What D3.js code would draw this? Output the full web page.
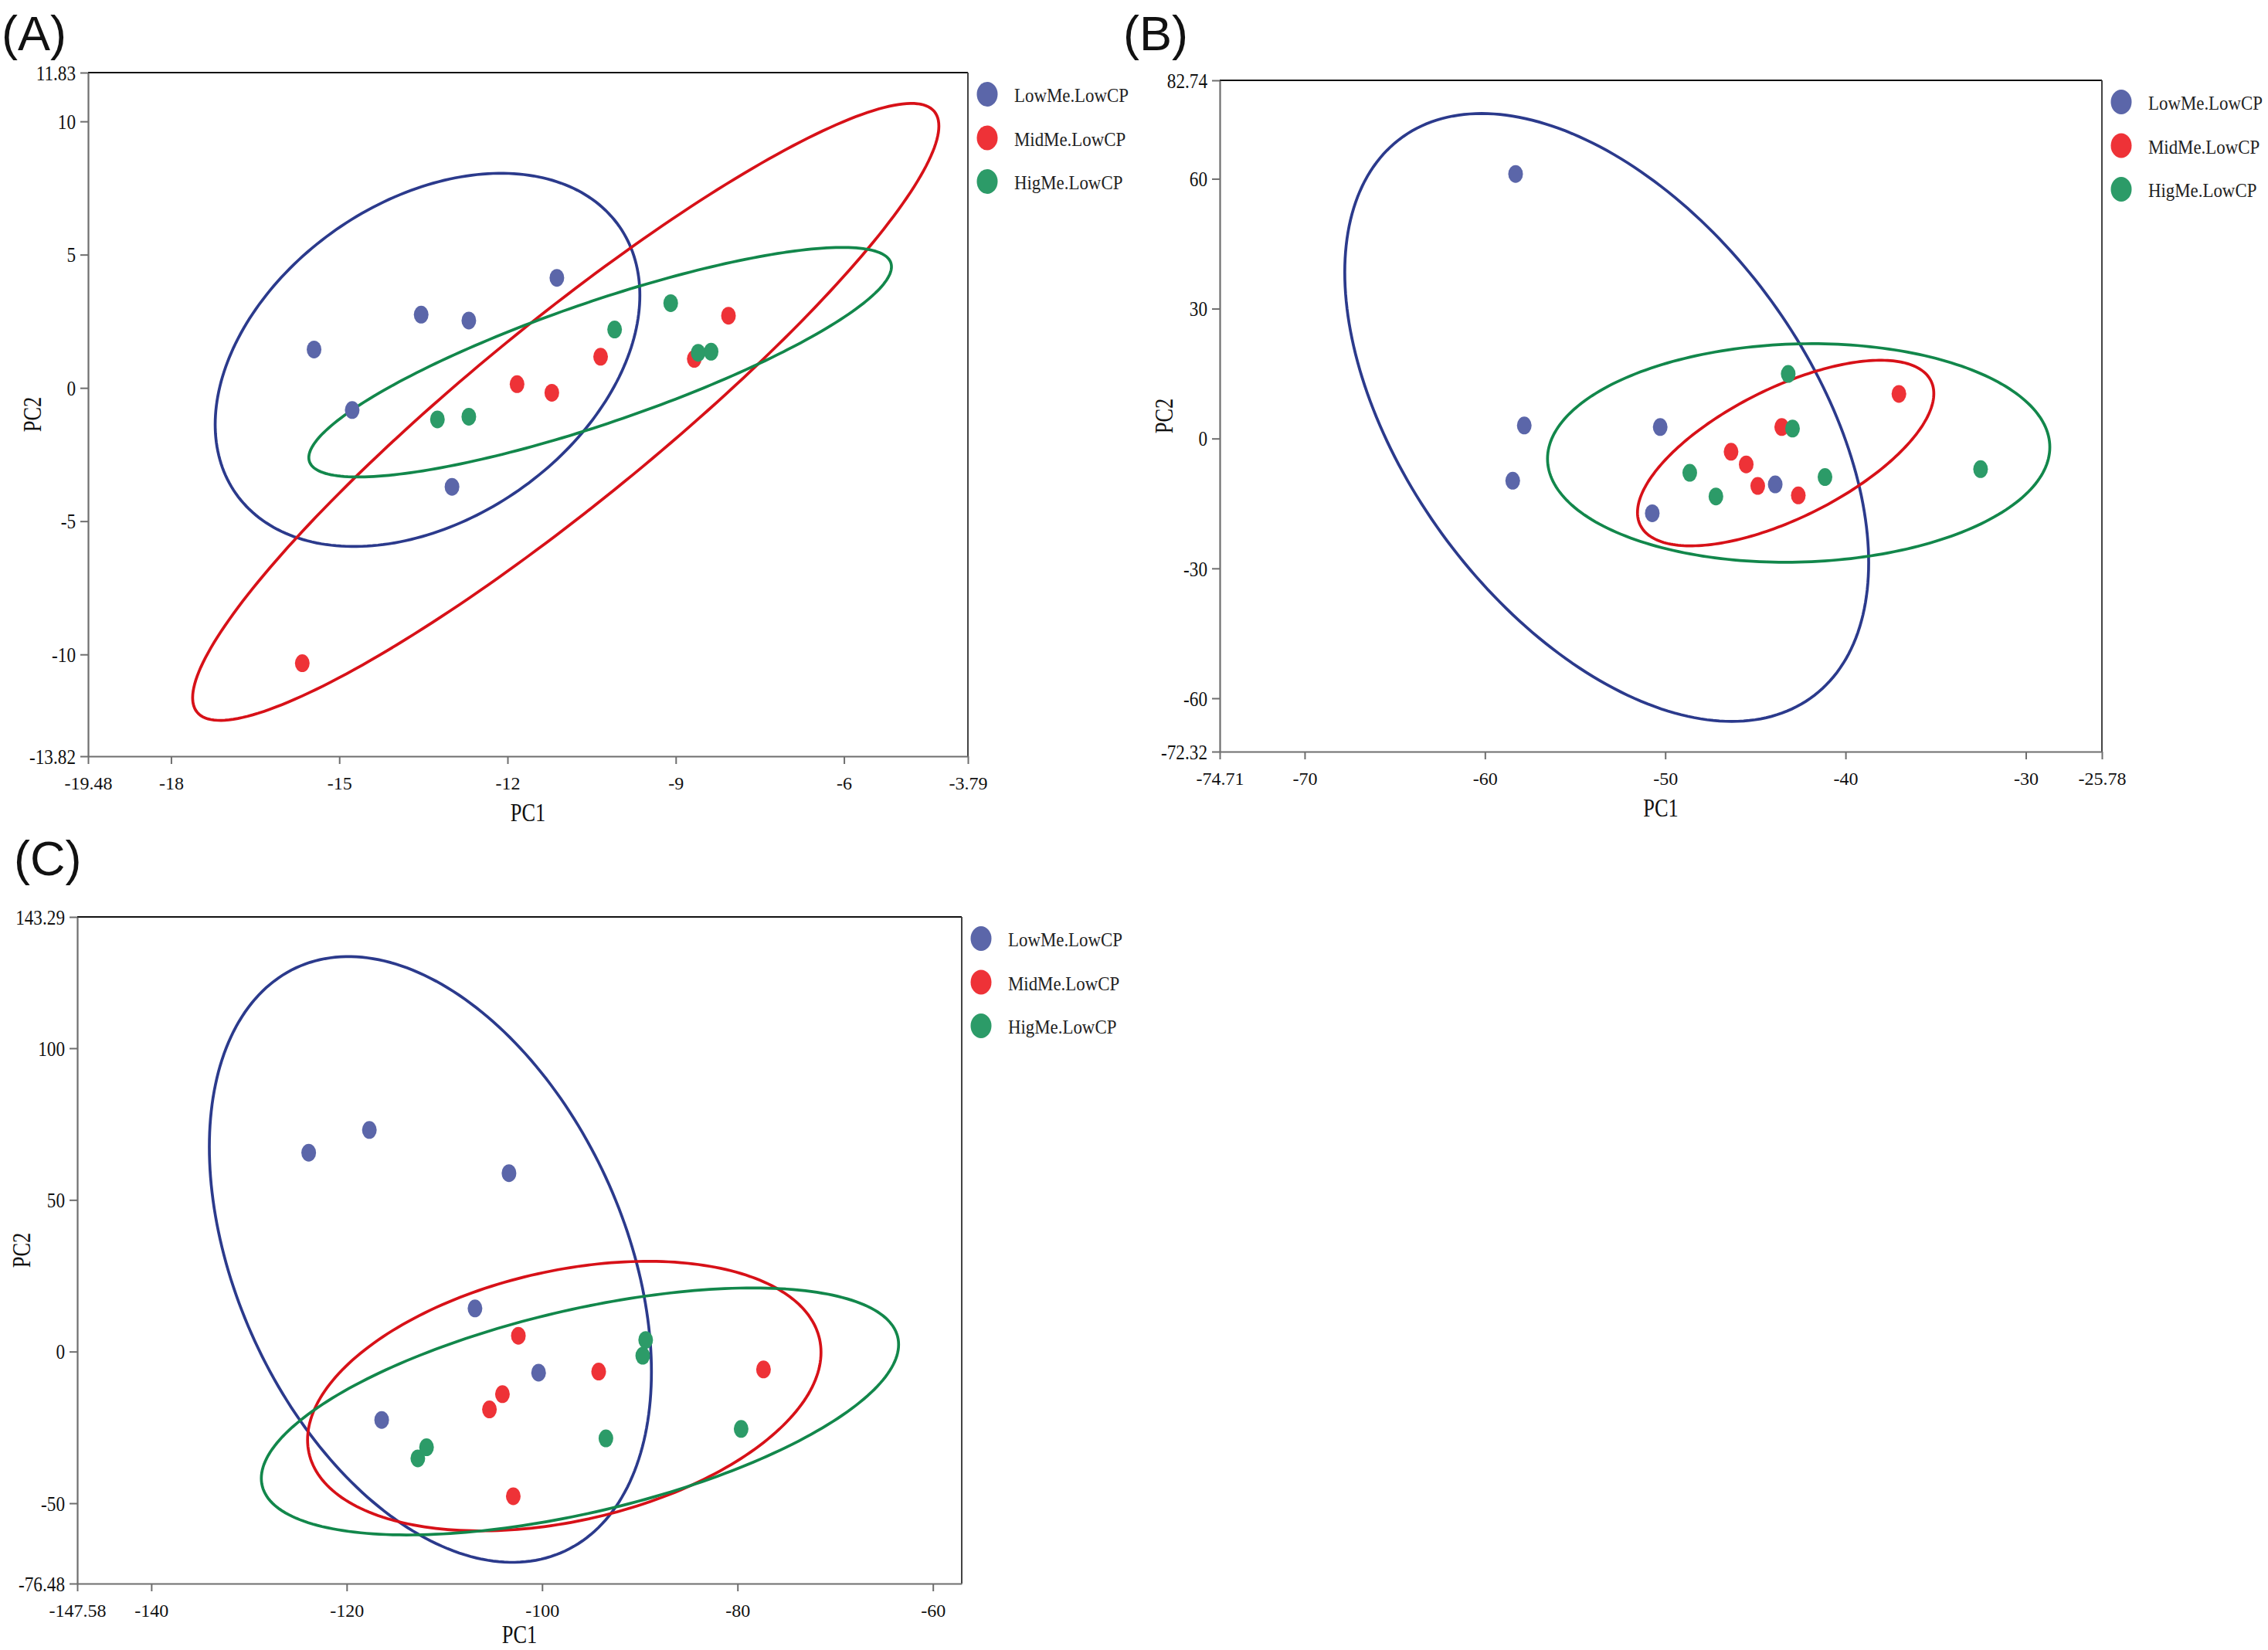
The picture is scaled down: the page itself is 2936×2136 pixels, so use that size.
<!DOCTYPE html>
<html lang="en">
<head>
<meta charset="utf-8">
<script src="https://d3js.org/d3.v7.min.js"></script>
<style>
  body { margin: 0; background: #fff; }
  svg { display: block; }
</style>
</head>
<body>
<div id="figure"></div>
<script>
// groups and colours
const groups = ["LowMe.LowCP", "MidMe.LowCP", "HigMe.LowCP"];
const pointColors = ["#5b66a9", "#ee3237", "#2c9b68"];
const ellipseColors = ["#2b3a8c", "#d71118", "#12874b"];

// panel A : PC1 / PC2 scores
const aLow = [[-15.45, 1.44], [-14.77, -0.83], [-13.54, 2.75], [-12.69, 2.53], [-11.12, 4.13], [-12.99, -3.71]];
const aMid = [[-15.66, -10.33], [-11.83, 0.14], [-11.21, -0.18], [-10.34, 1.17], [-8.67, 1.09], [-8.06, 2.71]];
const aHig = [[-13.25, -1.18], [-12.69, -1.08], [-10.09, 2.19], [-9.09, 3.18], [-8.60, 1.32], [-8.37, 1.36]];
const aXDomain = [-19.48, -3.79];
const aYDomain = [-13.82, 11.83];
const aXTicks = [-19.48, -18, -15, -12, -9, -6, -3.79];
const aYTicks = [-13.82, -10, -5, 0, 5, 10, 11.83];

// panel B
const bLow = [[-58.30, 61.11], [-57.82, 3.02], [-58.46, -9.74], [-50.28, 2.66], [-50.72, -17.27], [-43.90, -10.59]];
const bMid = [[-46.35, -3.05], [-45.51, -5.97], [-44.87, -10.95], [-43.54, 2.66], [-42.62, -13.14], [-37.04, 10.31]];
const bHig = [[-48.64, -7.92], [-47.19, -13.38], [-43.18, 14.93], [-42.94, 2.29], [-41.14, -8.89], [-32.51, -7.06]];
const bXDomain = [-74.71, -25.78];
const bYDomain = [-72.32, 82.74];
const bXTicks = [-74.71, -70, -60, -50, -40, -30, -25.78];
const bYTicks = [-72.32, -60, -30, 0, 30, 60, 82.74];

// panel C
const cLow = [[-123.89, 65.58], [-117.68, 73.04], [-103.39, 58.81], [-106.87, 14.24], [-100.36, -6.93], [-116.42, -22.54]];
const cMid = [[-102.43, 5.21], [-94.21, -6.58], [-104.06, -14.04], [-105.39, -19.07], [-102.95, -47.69], [-77.34, -5.89]];
const cHig = [[-112.72, -35.20], [-111.83, -31.56], [-93.47, -28.61], [-89.70, -1.38], [-89.40, 3.83], [-79.63, -25.49]];
const cXDomain = [-147.58, -57.05];
const cYDomain = [-76.48, 143.29];
const cXTicks = [-147.58, -140, -120, -100, -80, -60];
const cYTicks = [-76.48, -50, 0, 50, 100, 143.29];

const panels = [
  { tag: "(A)", series: [aLow, aMid, aHig], xd: aXDomain, yd: aYDomain, xt: aXTicks, yt: aYTicks,
    left: 114, right: 1253, top: 94, bottom: 979, tagX: 2, tagY: 65, titleGap: 84 },
  { tag: "(B)", series: [bLow, bMid, bHig], xd: bXDomain, yd: bYDomain, xt: bXTicks, yt: bYTicks,
    left: 1579, right: 2721, top: 104, bottom: 973, tagX: 1454, tagY: 65, titleGap: 84 },
  { tag: "(C)", series: [cLow, cMid, cHig], xd: cXDomain, yd: cYDomain, xt: cXTicks, yt: cYTicks,
    left: 100, right: 1245, top: 1187, bottom: 2050, tagX: 18, tagY: 1133, titleGap: 77 }
];

const serif = "'Liberation Serif', 'Times New Roman', serif";
const sans = "'Liberation Sans', Arial, sans-serif";
const K = Math.sqrt(5.991); // 95% chi-square, 2 df

const svg = d3.select("#figure").append("svg")
  .attr("width", 2936).attr("height", 2136)
  .style("background", "#fff");

// confidence ellipse from sample covariance
function ellipse(pts) {
  const n = pts.length;
  const mx = d3.mean(pts, d => d[0]), my = d3.mean(pts, d => d[1]);
  let sxx = 0, syy = 0, sxy = 0;
  pts.forEach(d => {
    sxx += (d[0] - mx) ** 2;
    syy += (d[1] - my) ** 2;
    sxy += (d[0] - mx) * (d[1] - my);
  });
  sxx /= n - 1; syy /= n - 1; sxy /= n - 1;
  const a = Math.sqrt(sxx), b = sxy / a, c = Math.sqrt(Math.max(syy - b * b, 0));
  return d3.range(0, 240).map(i => {
    const t = i / 240 * 2 * Math.PI;
    return [mx + K * a * Math.cos(t), my + K * (b * Math.cos(t) + c * Math.sin(t))];
  });
}

function drawPanel(p) {
  const x = d3.scaleLinear().domain(p.xd).range([p.left, p.right]);
  const y = d3.scaleLinear().domain(p.yd).range([p.bottom, p.top]);
  const g = svg.append("g");

  g.append("text")
    .attr("x", p.tagX).attr("y", p.tagY)
    .attr("font-family", sans).attr("font-size", 63)
    .attr("fill", "#111")
    .text(p.tag);

  // frame: top and right
  g.append("line").attr("x1", p.left).attr("x2", p.right).attr("y1", p.top).attr("y2", p.top)
    .attr("stroke", "#111").attr("stroke-width", 2);
  g.append("line").attr("x1", p.right).attr("x2", p.right).attr("y1", p.top).attr("y2", p.bottom)
    .attr("stroke", "#444").attr("stroke-width", 2);

  // axes
  const yAxis = g.append("g").attr("transform", `translate(${p.left},0)`)
    .call(d3.axisLeft(y).tickValues(p.yt).tickSize(10).tickSizeOuter(0).tickFormat(d => String(d)));
  const xAxis = g.append("g").attr("transform", `translate(0,${p.bottom})`)
    .call(d3.axisBottom(x).tickValues(p.xt).tickSize(10).tickSizeOuter(0).tickFormat(d => String(d)));

  [yAxis, xAxis].forEach(ax => {
    ax.select(".domain").attr("stroke", "#6e6e6e").attr("stroke-width", 2.2);
    ax.selectAll(".tick line").attr("stroke", "#6e6e6e").attr("stroke-width", 2);
    ax.selectAll(".tick text").attr("fill", "#111").attr("font-family", serif);
  });
  yAxis.selectAll(".tick text")
    .attr("font-size", 27).attr("x", 0).attr("dy", "0.34em")
    .attr("transform", "translate(-16,0) scale(0.86,1)");
  xAxis.selectAll(".tick text")
    .attr("font-size", 24).attr("y", 43).attr("dy", 0);

  // axis titles
  g.append("text")
    .attr("transform", `translate(${(p.left + p.right) / 2},${p.bottom + p.titleGap}) scale(0.8,1)`)
    .attr("text-anchor", "middle")
    .attr("font-family", serif).attr("font-size", 33).attr("fill", "#111")
    .text("PC1");
  g.append("text")
    .attr("transform", `translate(${p.left - 61},${(p.top + p.bottom) / 2}) rotate(-90) scale(0.8,1)`)
    .attr("text-anchor", "middle")
    .attr("font-family", serif).attr("font-size", 33).attr("fill", "#111")
    .text("PC2");

  // ellipses
  const line = d3.line().x(d => x(d[0])).y(d => y(d[1])).curve(d3.curveLinearClosed);
  p.series.forEach((pts, i) => {
    g.append("path")
      .attr("d", line(ellipse(pts)))
      .attr("fill", "none")
      .attr("stroke", ellipseColors[i])
      .attr("stroke-width", 3.7);
  });

  // points
  p.series.forEach((pts, i) => {
    g.selectAll(null).data(pts).enter().append("ellipse")
      .attr("cx", d => x(d[0])).attr("cy", d => y(d[1]))
      .attr("rx", 9.5).attr("ry", 11.5)
      .attr("fill", pointColors[i]);
  });

  // legend
  const lg = g.append("g").attr("transform", `translate(${p.right + 25},${p.top + 28})`);
  groups.forEach((name, i) => {
    lg.append("ellipse")
      .attr("cx", 0).attr("cy", i * 56.5)
      .attr("rx", 13.5).attr("ry", 16)
      .attr("fill", pointColors[i]);
    lg.append("text")
      .attr("transform", `translate(35,${i * 56.5 + 10}) scale(0.88,1)`)
      .attr("font-family", serif).attr("font-size", 26).attr("fill", "#222")
      .text(name);
  });
}

panels.forEach(drawPanel);
</script>
</body>
</html>
